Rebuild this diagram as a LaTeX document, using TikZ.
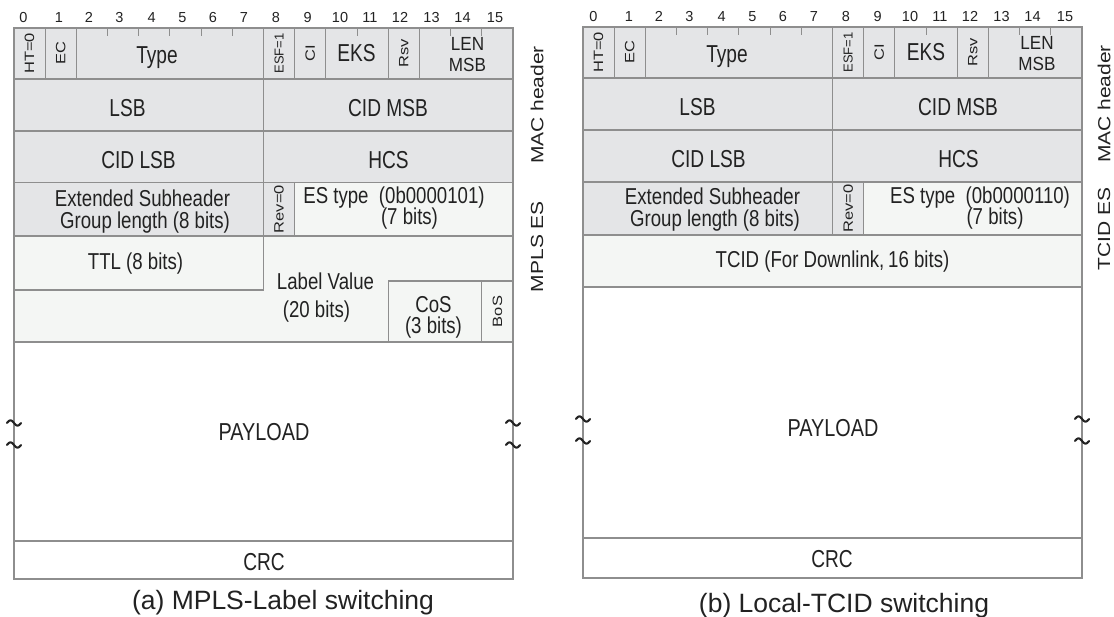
\documentclass[tikz,border=0pt]{standalone}
\usepackage{fontspec}
\setmainfont{Liberation Sans}
\newfontfamily\cellfont[FakeStretch=0.81]{Liberation Sans}
\newfontfamily\bigfont[FakeStretch=0.78]{Liberation Sans}
\newfontfamily\lenfont[FakeStretch=0.9]{Liberation Sans}
\newfontfamily\rotfont[FakeStretch=1.22]{Liberation Sans}
\newfontfamily\esffont[FakeStretch=1.0]{Liberation Sans}
\newfontfamily\sidefont[FakeStretch=1.2]{Liberation Sans}
\definecolor{hdr}{HTML}{E4E5E7}
\definecolor{lite}{HTML}{F4F6F4}
\definecolor{edge}{HTML}{8E8E8E}
\definecolor{ink}{HTML}{222222}
\newcommand\fcell[7]{%
  \pgfmathsetmacro\xa{#2+#3*31.1875}%
  \pgfmathsetmacro\xb{#2+#4*31.1875}%
  \pgfmathsetmacro\mycw{\xb-\xa}%
  \pgfmathsetmacro\mych{#6-#5}%
  \pgfmathsetmacro\xm{(\xa+\xb)/2}%
  \pgfmathsetmacro\ym{(#5+#6)/2}%
  \node[#7, minimum width=\mycw pt, minimum height=\mych pt] (#1) at (\xm,\ym) {};}
\begin{document}
\begin{tikzpicture}[x=1pt,y=-1pt,
  cell/.style={draw=edge, line width=1.1pt, inner sep=0pt, outer sep=0pt},
  hcell/.style={cell, fill=hdr},
  lcell/.style={cell, fill=lite},
  wcell/.style={cell, fill=white},
  lbl/.style={inner sep=0pt, text=ink, anchor=base, font=\cellfont\fontsize{23}{20}\selectfont},
  biglbl/.style={lbl, font=\bigfont\fontsize{24.5}{20}\selectfont},
  lenlbl/.style={inner sep=0pt, text=ink, anchor=center, align=center, font=\lenfont\fontsize{19}{21.5}\selectfont},
  paylbl/.style={lbl, font=\cellfont\fontsize{24.5}{20}\selectfont},
  rotlab/.style={rotate=90, inner sep=0pt, text=ink, font=\rotfont\fontsize{13.5}{14}\selectfont},
  esflab/.style={rotlab, font=\esffont\fontsize{13}{14}\selectfont},
  sidelab/.style={rotate=90, inner sep=0pt, text=ink, font=\sidefont\fontsize{17.5}{18}\selectfont},
  bitnum/.style={inner sep=0pt, text=ink, anchor=base, font=\fontsize{14.5}{15}\selectfont},
  caption/.style={inner sep=0pt, text=ink, anchor=base, font=\fontsize{26.5}{30}\selectfont},
  tick/.style={draw=edge, line width=1.1pt},
  tildemark/.pic={\draw[line width=2.1pt, ink, line cap=round] plot[domain=-7:7, samples=25, smooth] (\x,{2.6*sin(\x*25.7)});}
]
\fill[white] (0,0) rectangle (1114,617);
\useasboundingbox (0,0) rectangle (1114,617);

%================ LEFT (a) =================
\def\L{14}
\foreach \i/\xx in {0/23.5,1/59,2/89,3/119.5,4/151.7,5/182.5,6/213,7/244,8/276,9/307.7,10/340,11/370,12/400,13/431.5,14/462.5,15/495}
  \node[bitnum] (abit\i) at (\xx,23) {\i};
% row 1
\fcell{aht}{\L}{0}{1}{28}{79}{hcell}
\fcell{aec}{\L}{1}{2}{28}{79}{hcell}
\fcell{atype}{\L}{2}{8}{28}{79}{hcell}
\fcell{aesf}{\L}{8}{9}{28}{79}{hcell}
\fcell{aci}{\L}{9}{10}{28}{79}{hcell}
\fcell{aeks}{\L}{10}{12}{28}{79}{hcell}
\fcell{arsv}{\L}{12}{13}{28}{79}{hcell}
\fcell{alen}{\L}{13}{16}{28}{79}{hcell}
\foreach \c in {3,4,5,6,7,11,14,15} \draw[tick] ({\L+\c*31.1875},28) -- ({\L+\c*31.1875},36);
% rows 2,3
\fcell{alsb}{\L}{0}{8}{79}{131}{hcell}
\fcell{acidmsb}{\L}{8}{16}{79}{131}{hcell}
\fcell{acidlsb}{\L}{0}{8}{131}{182.5}{hcell}
\fcell{ahcs}{\L}{8}{16}{131}{182.5}{hcell}
% row 4
\fcell{aesgl}{\L}{0}{8}{182.5}{236}{hcell}
\fcell{arev}{\L}{8}{9}{182.5}{236}{hcell}
\fcell{aestype}{\L}{9}{16}{182.5}{236}{lcell}
% MPLS label area
\fcell{alabel}{\L}{0}{16}{236}{342}{lcell}
\fcell{attl}{\L}{0}{8}{236}{290}{lcell}
\fcell{acos}{\L}{12}{15}{281}{342}{lcell}
\fcell{abos}{\L}{15}{16}{281}{342}{lcell}
% payload, crc
\fcell{apay}{\L}{0}{16}{342}{541}{wcell}
\fcell{acrc}{\L}{0}{16}{541}{579}{wcell}
% labels
\node[rotlab] (ahtt) at (aht) {HT=0};
\node[rotlab] (aect) at (aec) {EC};
\node[biglbl] (atypet) at (157,63.5) {Type};
\node[esflab] (aesft) at (aesf) {ESF=1};
\node[rotlab] (acit) at (aci) {CI};
\node[biglbl] (aekst) at (356.5,61.7) {EKS};
\node[rotlab] (arsvt) at (arsv) {Rsv};
\node[lenlbl] (alent) at (467.5,54.5) {LEN\\MSB};
\node[biglbl] (alsbt) at (127.5,116.7) {LSB};
\node[biglbl] (acidmsbt) at (388,117) {CID MSB};
\node[biglbl] (acidlsbt) at (138.5,168.5) {CID LSB};
\node[biglbl] (ahcst) at (388.5,168.5) {HCS};
\node[lbl] (aesglt1) at (142.5,206.5) {Extended Subheader};
\node[lbl] (aesglt2) at (145,228.5) {Group length (8 bits)};
\node[rotlab] (arevt) at (arev) {Rev=0};
\node[lbl] (aestt1) at (394,204) {ES type~~(0b0000101)};
\node[lbl] (aestt2) at (409.5,225) {(7 bits)};
\node[lbl] (attlt) at (135.5,270) {TTL (8 bits)};
\node[lbl] (alabelt1) at (325.5,290) {Label Value};
\node[lbl] (alabelt2) at (316.5,318) {(20 bits)};
\node[lbl] (acost1) at (433.5,312.5) {CoS};
\node[lbl] (acost2) at (433.5,333.5) {(3 bits)};
\node[rotlab] (abost) at (abos) {BoS};
\node[paylbl] (apayt) at (264,441) {PAYLOAD};
\node[biglbl] (acrct) at (264,570.6) {CRC};
\node[sidelab] (amac) at (537,105) {MAC header};
\node[sidelab] (ampls) at (537,246.5) {MPLS ES};
\pic at (\L,423) {tildemark};
\pic at (\L,445) {tildemark};
\pic at (513,423) {tildemark};
\pic at (513,445) {tildemark};
\node[caption] (acap) at (283,609.5) {(a) MPLS-Label switching};

%================ RIGHT (b) =================
\def\R{583}
\foreach \i/\xx in {0/23.5,1/59,2/89,3/119.5,4/151.7,5/182.5,6/213,7/244,8/276,9/307.7,10/340,11/370,12/400,13/431.5,14/462.5,15/495}
  \node[bitnum] (bbit\i) at (\xx+570,22) {\i};
\fcell{bht}{\R}{0}{1}{27}{78}{hcell}
\fcell{bec}{\R}{1}{2}{27}{78}{hcell}
\fcell{btype}{\R}{2}{8}{27}{78}{hcell}
\fcell{besf}{\R}{8}{9}{27}{78}{hcell}
\fcell{bci}{\R}{9}{10}{27}{78}{hcell}
\fcell{beks}{\R}{10}{12}{27}{78}{hcell}
\fcell{brsv}{\R}{12}{13}{27}{78}{hcell}
\fcell{blen}{\R}{13}{16}{27}{78}{hcell}
\foreach \c in {3,4,5,6,7,11,14,15} \draw[tick] ({\R+\c*31.1875},27) -- ({\R+\c*31.1875},35);
\fcell{blsb}{\R}{0}{8}{78}{130}{hcell}
\fcell{bcidmsb}{\R}{8}{16}{78}{130}{hcell}
\fcell{bcidlsb}{\R}{0}{8}{130}{182}{hcell}
\fcell{bhcs}{\R}{8}{16}{130}{182}{hcell}
\fcell{besgl}{\R}{0}{8}{182}{235}{hcell}
\fcell{brev}{\R}{8}{9}{182}{235}{hcell}
\fcell{bestype}{\R}{9}{16}{182}{235}{lcell}
\fcell{btcid}{\R}{0}{16}{235}{287}{lcell}
\fcell{bpay}{\R}{0}{16}{287}{538}{wcell}
\fcell{bcrc}{\R}{0}{16}{538}{578}{wcell}
\node[rotlab] (bhtt) at (bht) {HT=0};
\node[rotlab] (bect) at (bec) {EC};
\node[biglbl] (btypet) at (727,62.5) {Type};
\node[esflab] (besft) at (besf) {ESF=1};
\node[rotlab] (bcit) at (bci) {CI};
\node[biglbl] (bekst) at (926,60.7) {EKS};
\node[rotlab] (brsvt) at (brsv) {Rsv};
\node[lenlbl] (blent) at (1037,53.5) {LEN\\MSB};
\node[biglbl] (blsbt) at (697.5,115.7) {LSB};
\node[biglbl] (bcidmsbt) at (958,116) {CID MSB};
\node[biglbl] (bcidlsbt) at (708.5,167.5) {CID LSB};
\node[biglbl] (bhcst) at (958.5,167.5) {HCS};
\node[lbl] (besglt1) at (712.5,205) {Extended Subheader};
\node[lbl] (besglt2) at (715,227) {Group length (8 bits)};
\node[rotlab] (brevt) at (brev) {Rev=0};
\node[lbl] (bestt1) at (980,204) {ES type~~(0b0000110)};
\node[lbl] (bestt2) at (995,225) {(7 bits)};
\node[lbl] (btcidt) at (832.5,268) {TCID (For Downlink,\,16 bits)};
\node[paylbl] (bpayt) at (833,437) {PAYLOAD};
\node[biglbl] (bcrct) at (832,567.5) {CRC};
\node[sidelab] (bmac) at (1104,104) {MAC header};
\node[sidelab] (btcides) at (1104,229) {TCID ES};
\pic at (\R,419) {tildemark};
\pic at (\R,441) {tildemark};
\pic at (1082,419) {tildemark};
\pic at (1082,441) {tildemark};
\node[caption] (bcap) at (844,612) {(b) Local-TCID switching};
\end{tikzpicture}
\end{document}
